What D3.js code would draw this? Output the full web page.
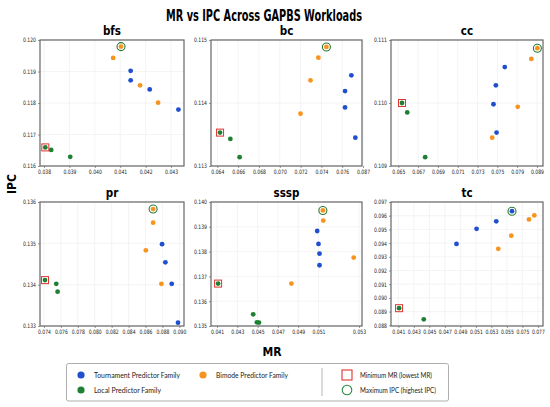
<!DOCTYPE html>
<html>
<head>
<meta charset="utf-8">
<script src="https://cdn.jsdelivr.net/npm/d3@7"></script>
<style>
  body { margin: 0; background: #fff; }
  svg { display: block; }
  .tick text { font-family: "DejaVu Sans Condensed", "Liberation Sans Narrow", "Roboto", sans-serif; font-stretch: condensed; font-size: 6px; fill: #222; }
</style>
</head>
<body>
<svg id="chart" width="550" height="407"></svg>
<script>
// family codes: T = tournament, B = bimode, L = local
var workloads = ["bfs", "bc", "cc", "pr", "sssp", "tc"];

// [family, MR, IPC]
var bfsPoints = [
  ["B", 0.04103, 0.11979], ["B", 0.04072, 0.11943], ["T", 0.04141, 0.11902], ["T", 0.04141, 0.11872],
  ["B", 0.04178, 0.11856], ["T", 0.04216, 0.11843], ["B", 0.04249, 0.11801], ["T", 0.04329, 0.11779],
  ["L", 0.03805, 0.11659], ["L", 0.03828, 0.11651], ["L", 0.03903, 0.11629]
];
var bcPoints = [
  ["B", 0.07448, 0.11489], ["B", 0.07371, 0.11472], ["B", 0.07295, 0.11436], ["B", 0.07199, 0.11383],
  ["T", 0.07688, 0.11444], ["T", 0.07627, 0.11419], ["T", 0.07627, 0.11393], ["T", 0.07726, 0.11345],
  ["L", 0.06426, 0.11353], ["L", 0.06525, 0.11343], ["L", 0.06614, 0.11314]
];
var ccPoints = [
  ["B", 0.07904, 0.11087], ["B", 0.07843, 0.11070], ["T", 0.07575, 0.11057], ["T", 0.07485, 0.11028],
  ["T", 0.07461, 0.10998], ["B", 0.07706, 0.10994], ["T", 0.07492, 0.10953], ["B", 0.07448, 0.10945],
  ["L", 0.06537, 0.11000], ["L", 0.06590, 0.10985], ["L", 0.06771, 0.10914]
];
var prPoints = [
  ["B", 0.08690, 0.13583], ["B", 0.08690, 0.13550], ["B", 0.08604, 0.13483], ["T", 0.08796, 0.13498],
  ["T", 0.08835, 0.13454], ["B", 0.08788, 0.13402], ["T", 0.08910, 0.13402], ["T", 0.08984, 0.13308],
  ["L", 0.07412, 0.13411], ["L", 0.07545, 0.13402], ["L", 0.07561, 0.13383]
];
var ssspPoints = [
  ["B", 0.05143, 0.13966], ["B", 0.05147, 0.13925], ["T", 0.05087, 0.13883], ["T", 0.05100, 0.13831],
  ["T", 0.05110, 0.13792], ["T", 0.05110, 0.13745], ["B", 0.05447, 0.13776], ["B", 0.04833, 0.13671],
  ["L", 0.04110, 0.13671], ["L", 0.04456, 0.13547], ["L", 0.04493, 0.13515], ["L", 0.04513, 0.13514]
];
var tcPoints = [
  ["T", 0.05566, 0.09633], ["T", 0.05363, 0.09559], ["T", 0.05109, 0.09504], ["T", 0.04850, 0.09394],
  ["B", 0.05854, 0.09602], ["B", 0.05785, 0.09573], ["B", 0.05557, 0.09454], ["B", 0.05389, 0.09358],
  ["L", 0.04109, 0.08925], ["L", 0.04428, 0.08844]
];

// axis ranges and ticks (labels as printed on the original figure)
var xDomains = [[0.03784, 0.04351], [0.06339, 0.0779], [0.06426, 0.07961], [0.07353, 0.09055], [0.0404, 0.05529], [0.04005, 0.05966]];
var yDomains = [[0.116, 0.120], [0.113, 0.115], [0.109, 0.111], [0.133, 0.136], [0.135, 0.140], [0.08795, 0.097]];
var xTickValues = [
  [0.038, 0.039, 0.040, 0.041, 0.042, 0.043],
  [0.064, 0.066, 0.068, 0.070, 0.072, 0.074, 0.076, 0.078],
  [0.065, 0.067, 0.069, 0.071, 0.073, 0.075, 0.077, 0.079],
  [0.074, 0.076, 0.078, 0.080, 0.082, 0.084, 0.086, 0.088, 0.090],
  [0.041, 0.043, 0.045, 0.047, 0.049, 0.051, 0.055],
  [0.041, 0.043, 0.045, 0.047, 0.049, 0.051, 0.053, 0.055, 0.057, 0.059]
];
var xTickLabels = [
  ["0.038", "0.039", "0.040", "0.041", "0.042", "0.043"],
  ["0.064", "0.066", "0.068", "0.070", "0.072", "0.074", "0.076", "0.087"],
  ["0.065", "0.067", "0.069", "0.071", "0.073", "0.075", "0.079", "0.089"],
  ["0.074", "0.076", "0.078", "0.080", "0.082", "0.084", "0.086", "0.088", "0.090"],
  ["0.041", "0.043", "0.045", "0.047", "0.049", "0.051", "0.053"],
  ["0.041", "0.043", "0.045", "0.047", "0.049", "0.051", "0.053", "0.055", "0.075", "0.077"]
];
var yTickValues = [
  [0.116, 0.117, 0.118, 0.119, 0.120],
  [0.113, 0.114, 0.115],
  [0.109, 0.110, 0.111],
  [0.133, 0.134, 0.135, 0.136],
  [0.135, 0.136, 0.137, 0.138, 0.139, 0.140],
  [0.088, 0.089, 0.090, 0.091, 0.092, 0.093, 0.094, 0.095, 0.096, 0.097]
];

var familyNames = {T: "Tournament Predictor Family", B: "Bimode Predictor Family", L: "Local Predictor Family"};
var familyColors = {T: "#1f4fcf", B: "#f7941d", L: "#1f8033"};

var allPoints = [bfsPoints, bcPoints, ccPoints, prPoints, ssspPoints, tcPoints];

var svg = d3.select("#chart");
var titleFont = '"DejaVu Sans Condensed", "Liberation Sans Narrow", "Roboto", sans-serif';

// squeeze a label horizontally to a target width, so it reads like the narrow font of the original
function squeeze(sel, w) {
    sel.attr("textLength", w).attr("lengthAdjust", "spacingAndGlyphs");
}

// panel boxes: [left, right] per column, [top, bottom] per row
var colX = [[40, 184], [211, 362], [391, 543]];
var rowY = [[40, 166], [202, 326]];

svg.append("text")
    .attr("x", 264).attr("y", 21)
    .attr("text-anchor", "middle")
    .attr("font-family", titleFont)
    .attr("font-weight", "bold")
    .attr("font-size", 15.5)
    .attr("font-stretch", "condensed")
    .call(squeeze, 196)
    .text("MR vs IPC Across GAPBS Workloads");

workloads.forEach(function(name, i) {
    var col = i % 3, row = Math.floor(i / 3);
    var x0 = colX[col][0], x1 = colX[col][1], y0 = rowY[row][0], y1 = rowY[row][1];
    var data = allPoints[i];

    var x = d3.scaleLinear().domain(xDomains[i]).range([x0, x1]);
    var y = d3.scaleLinear().domain(yDomains[i]).range([y1, y0]);

    var g = svg.append("g").attr("class", "panel");

    // grid
    g.selectAll("line.vgrid").data(xTickValues[i]).enter().append("line")
        .attr("class", "vgrid")
        .attr("x1", function(d) { return x(d); }).attr("x2", function(d) { return x(d); })
        .attr("y1", y0).attr("y2", y1)
        .attr("stroke", "#ececec").attr("stroke-width", 0.6);
    g.selectAll("line.hgrid").data(yTickValues[i]).enter().append("line")
        .attr("class", "hgrid")
        .attr("x1", x0).attr("x2", x1)
        .attr("y1", function(d) { return y(d); }).attr("y2", function(d) { return y(d); })
        .attr("stroke", "#ececec").attr("stroke-width", 0.6);

    var labels = xTickLabels[i];
    var xAxis = d3.axisBottom(x).tickValues(xTickValues[i]).tickSize(2).tickPadding(2)
        .tickFormat(function(d, k) { return labels[k]; });
    var yAxis = d3.axisLeft(y).tickValues(yTickValues[i]).tickSize(2).tickPadding(2)
        .tickFormat(d3.format(".3f"));

    var gx = g.append("g").attr("transform", "translate(0," + y1 + ")").call(xAxis);
    var gy = g.append("g").attr("transform", "translate(" + x0 + ",0)").call(yAxis);
    [gx, gy].forEach(function(a) {
        a.select(".domain").remove();
        a.selectAll(".tick line").attr("stroke", "#555").attr("stroke-width", 0.6);
        a.selectAll(".tick text").call(squeeze, 13);
    });

    g.append("rect")
        .attr("x", x0).attr("y", y0)
        .attr("width", x1 - x0).attr("height", y1 - y0)
        .attr("fill", "none")
        .attr("stroke", "#666").attr("stroke-width", 1.2);

    g.append("text")
        .attr("x", (x0 + x1) / 2).attr("y", y0 - 5)
        .attr("text-anchor", "middle")
        .attr("font-family", titleFont)
        .attr("font-weight", "bold")
        .attr("font-size", 11.5)
        .attr("font-stretch", "condensed")
        .text(name);

    g.selectAll("circle.pt").data(data).enter().append("circle")
        .attr("class", "pt")
        .attr("cx", function(d) { return x(d[1]); })
        .attr("cy", function(d) { return y(d[2]); })
        .attr("r", 2.4)
        .attr("fill", function(d) { return familyColors[d[0]]; });

    var minMR = d3.least(data, function(d) { return d[1]; });
    var maxIPC = d3.greatest(data, function(d) { return d[2]; });

    g.append("rect")
        .attr("x", x(minMR[1]) - 3.5).attr("y", y(minMR[2]) - 3.5)
        .attr("width", 7).attr("height", 7)
        .attr("fill", "none")
        .attr("stroke", "#e0342f").attr("stroke-width", 1);
    g.append("circle")
        .attr("cx", x(maxIPC[1])).attr("cy", y(maxIPC[2]))
        .attr("r", 4)
        .attr("fill", "none")
        .attr("stroke", "#2a7a35").attr("stroke-width", 1.1);
});

svg.append("text")
    .attr("transform", "translate(16,184) rotate(-90)")
    .attr("text-anchor", "middle")
    .attr("font-family", titleFont)
    .attr("font-weight", "bold")
    .attr("font-size", 12)
    .attr("font-stretch", "condensed")
    .text("IPC");

svg.append("text")
    .attr("x", 272).attr("y", 356)
    .attr("text-anchor", "middle")
    .attr("font-family", titleFont)
    .attr("font-weight", "bold")
    .attr("font-size", 12)
    .attr("font-stretch", "condensed")
    .text("MR");

// legend
var legend = svg.append("g").attr("font-family", "Lato, 'Noto Sans', sans-serif").attr("font-size", 8).attr("fill", "#222");
legend.append("rect")
    .attr("x", 66.5).attr("y", 363.5).attr("width", 382).attr("height", 37.5)
    .attr("rx", 2)
    .attr("fill", "#fff").attr("stroke", "#999").attr("stroke-width", 0.8);

// [family, dot x, dot y, label width]
var familyItems = [["T", 81, 375, 86], ["B", 203, 375, 72], ["L", 81, 390, 67]];
familyItems.forEach(function(it) {
    legend.append("circle").attr("cx", it[1]).attr("cy", it[2]).attr("r", 3.6).attr("fill", familyColors[it[0]]);
    legend.append("text").attr("x", it[1] + 13).attr("y", it[2] + 3)
        .call(squeeze, it[3])
        .text(familyNames[it[0]]);
});

legend.append("line")
    .attr("x1", 322).attr("x2", 322).attr("y1", 368).attr("y2", 396)
    .attr("stroke", "#888").attr("stroke-width", 0.6);

legend.append("rect")
    .attr("x", 342).attr("y", 370).attr("width", 10).attr("height", 10)
    .attr("fill", "none").attr("stroke", "#e0342f").attr("stroke-width", 1.1);
legend.append("text").attr("x", 360).attr("y", 378).call(squeeze, 72).text("Minimum MR (lowest MR)");
legend.append("circle")
    .attr("cx", 347).attr("cy", 390).attr("r", 4.8)
    .attr("fill", "none").attr("stroke", "#2a8a3a").attr("stroke-width", 1.1);
legend.append("text").attr("x", 360).attr("y", 393).call(squeeze, 76).text("Maximum IPC (highest IPC)");
</script>
</body>
</html>
